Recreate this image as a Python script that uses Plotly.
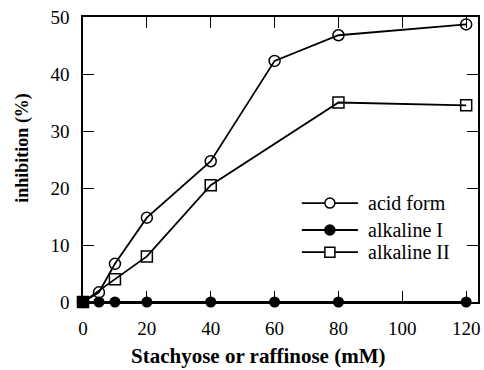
import plotly.graph_objects as go

# Stachyose / raffinose concentration (mM) and inhibition (%)
acid_x = [0, 5, 10, 20, 40, 60, 80, 120]
acid_y = [0, 1.7, 6.7, 14.8, 24.7, 42.3, 46.8, 48.7]

alk1_x = [0, 5, 10, 20, 40, 60, 80, 120]
alk1_y = [0, 0, 0, 0, 0, 0, 0, 0]

alk2_x = [0, 10, 20, 40, 80, 120]
alk2_y = [0, 4.0, 8.0, 20.5, 35.0, 34.5]

x_ticks = [0, 20, 40, 60, 80, 100, 120]
y_ticks = [0, 10, 20, 30, 40, 50]

series_names = ["acid form", "alkaline I", "alkaline II"]

FONT = "Liberation Serif, Times New Roman, serif"

fig = go.Figure()
fig.add_trace(go.Scatter(
    x=acid_x, y=acid_y, name=series_names[0], mode="lines+markers", cliponaxis=False,
    line=dict(color="black", width=1.8),
    marker=dict(symbol="circle-open", size=11, color="black", line=dict(width=1.5)),
))
fig.add_trace(go.Scatter(
    x=alk1_x, y=alk1_y, name=series_names[1], mode="lines+markers", cliponaxis=False,
    line=dict(color="black", width=1.8),
    marker=dict(symbol="circle", size=11, color="black"),
))
fig.add_trace(go.Scatter(
    x=alk2_x, y=alk2_y, name=series_names[2], mode="lines+markers", cliponaxis=False,
    line=dict(color="black", width=1.8),
    marker=dict(symbol="square-open", size=11, color="black", line=dict(width=1.5)),
))
# overlapping origin point drawn as a solid square
fig.add_trace(go.Scatter(
    x=alk2_x[:1], y=alk2_y[:1], mode="markers", showlegend=False, cliponaxis=False,
    marker=dict(symbol="square", size=11, color="black"),
))

axis_common = dict(
    showgrid=False, zeroline=False, showline=True, linecolor="black", linewidth=1.5,
    mirror="ticks", ticks="inside", ticklen=11, tickwidth=1.2, tickcolor="black",
    tickfont=dict(family=FONT, size=19, color="black"),
    ticklabeloverflow="allow", automargin=False, ticklabelstandoff=8,
)

# hand-placed legend key: line, marker symbol and label per row
legend_rows = [0.347, 0.2526, 0.175]
key_styles = [("circle", "white"), ("circle", "black"), ("rect", "white")]
shapes, annotations = [], []
for row, name, (kind, fill) in zip(legend_rows, series_names, key_styles):
    shapes.append(dict(type="line", xref="paper", yref="paper", x0=0.554, x1=0.696,
                       y0=row, y1=row, line=dict(color="black", width=1.8)))
    shapes.append(dict(type=kind, xref="paper", yref="paper",
                       xsizemode="pixel", ysizemode="pixel",
                       xanchor=0.625, yanchor=row, x0=-5, x1=5, y0=-5, y1=5,
                       fillcolor=fill, line=dict(color="black", width=1.5)))
    annotations.append(dict(text=name, xref="paper", yref="paper", x=0.717, y=row,
                            xanchor="left", yanchor="middle", showarrow=False,
                            font=dict(family=FONT, size=20, color="black")))

annotations.append(dict(text="<b>Stachyose or raffinose (mM)</b>", xref="paper", yref="paper",
                        x=0.442, y=-0.19, xanchor="center", yanchor="middle", showarrow=False,
                        font=dict(family=FONT, size=21, color="black")))
annotations.append(dict(text="<b>inhibition (%)</b>", xref="paper", yref="paper",
                        x=-0.153, y=0.54, xanchor="center", yanchor="middle", showarrow=False,
                        textangle=-90, font=dict(family=FONT, size=18, color="black")))

fig.update_layout(
    width=484, height=370,
    margin=dict(l=83, r=6, t=17, b=68),
    paper_bgcolor="white", plot_bgcolor="white",
    font=dict(family=FONT, color="black"),
    xaxis=dict(range=[-0.001, 123.7], tickvals=x_ticks, **axis_common),
    yaxis=dict(range=[-0.001, 50.001], tickvals=y_ticks, **axis_common),
    shapes=shapes,
    annotations=annotations,
    showlegend=False,
)

fig.write_html("out.html")
